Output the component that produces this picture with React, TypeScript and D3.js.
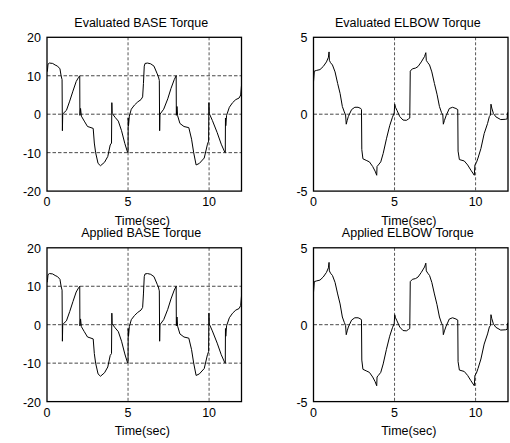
import * as d3 from "d3";

// time (s) / torque pairs
const baseTime = [
  0.0, 0.03, 0.06, 0.15, 0.35, 0.5, 0.65, 0.8, 0.87, 0.93, 0.95, 0.97, 1.0, 1.2, 1.4, 1.6, 1.8, 1.95, 2.02,
  2.03, 2.07, 2.12, 2.3, 2.5, 2.65, 2.85, 2.92, 3.0, 3.15, 3.3, 3.55, 3.75, 3.9, 3.98, 4.0, 4.02, 4.2, 4.4,
  4.6, 4.8, 4.97, 5.0, 5.01, 5.03, 5.08, 5.2, 5.4, 5.6, 5.8, 5.9, 5.95, 6.0, 6.05, 6.2, 6.4, 6.6, 6.8, 6.87,
  6.93, 6.95, 6.97, 7.2, 7.45, 7.65, 7.85, 7.97, 7.98, 8.02, 8.06, 8.2, 8.45, 8.75, 8.92, 9.05, 9.2, 9.4,
  9.7, 9.9, 9.97, 9.99, 10.01, 10.2, 10.5, 10.75, 10.97, 11.0, 11.01, 11.03, 11.08, 11.25, 11.45, 11.65,
  11.85, 11.95, 12.0,
];
const baseTorque = [
  11.0, 11.5, 13.0, 13.3, 13.2, 12.8, 12.5, 11.8, 10.0, 9.0, -4.3, 0.0, 0.2, 1.0, 3.4, 6.0, 8.5, 9.6, 10.0,
  -0.3, 1.5, -0.5, -1.8, -3.2, -3.4, -3.7, -7.5, -10.0, -12.8, -13.4, -12.5, -11.0, -8.0, -7.5, 3.0, 0.2,
  -0.8, -1.8, -4.3, -7.6, -9.9, -10.0, -1.0, -3.0, -0.5, 1.3, 2.4, 3.2, 3.8, 4.5, 8.0, 12.5, 13.2, 13.3,
  13.1, 12.5, 10.5, 9.8, 8.8, -4.3, 0.0, 1.3, 4.0, 6.7, 9.0, 10.0, -0.3, 2.0, -0.4, -2.4, -3.2, -3.5, -6.5,
  -10.0, -13.2, -12.8, -11.4, -7.8, -7.0, 3.0, 0.2, -1.6, -4.8, -7.8, -9.9, -10.0, -1.0, -3.0, -0.3, 1.8,
  3.0, 3.8, 4.2, 5.0, 7.5,
];

const elbowTime = [
  0.0, 0.05, 0.2, 0.4, 0.6, 0.8, 0.92, 0.96, 0.98, 1.05, 1.17, 1.33, 1.49, 1.64, 1.78, 1.9, 1.98, 2.02, 2.08,
  2.15, 2.35, 2.55, 2.75, 2.92, 2.96, 2.98, 3.05, 3.25, 3.45, 3.65, 3.8, 3.9, 3.92, 4.0, 4.15, 4.3, 4.5, 4.7,
  4.87, 4.98, 5.01, 5.06, 5.15, 5.32, 5.52, 5.73, 5.87, 5.94, 5.97, 6.1, 6.3, 6.45, 6.65, 6.85, 6.93, 6.96,
  7.05, 7.16, 7.3, 7.46, 7.62, 7.77, 7.9, 7.98, 8.01, 8.08, 8.18, 8.38, 8.58, 8.79, 8.9, 8.92, 9.0, 9.3,
  9.51, 9.71, 9.92, 9.96, 10.05, 10.15, 10.33, 10.53, 10.74, 10.85, 10.92, 10.95, 11.0, 11.1, 11.25, 11.55,
  11.86, 11.95, 11.97, 12.0,
];
const elbowTorque = [
  2.1, 2.8, 2.85, 2.9, 3.1, 3.4, 3.7, 4.05, 3.5, 3.35, 3.2, 2.75, 2.0, 1.35, 0.5, 0.15, -0.05, -0.65, -0.4,
  -0.15, 0.3, 0.45, 0.45, 0.37, 0.3, -2.3, -2.9, -3.0, -3.1, -3.4, -3.7, -3.97, -3.4, -3.3, -3.1, -2.55,
  -1.6, -0.75, -0.2, 0.08, 0.65, 0.45, 0.25, -0.15, -0.38, -0.4, -0.3, -0.25, 2.8, 2.95, 3.0, 3.1, 3.4,
  3.75, 4.0, 3.5, 3.35, 3.2, 2.75, 2.0, 1.3, 0.5, 0.1, -0.05, -0.65, -0.4, -0.1, 0.37, 0.45, 0.37, 0.3,
  -2.4, -2.95, -3.04, -3.3, -3.64, -3.97, -3.3, -3.15, -2.85, -2.23, -1.26, -0.6, -0.15, -0.05, 0.65, 0.4,
  0.05, -0.17, -0.35, -0.33, -0.3, 0.1, 0.1,
];

const xTicks = [0, 5, 10];
const xGrid = [5, 10];
const baseTicks = [-20, -10, 0, 10, 20];
const baseGrid = [-10, 0, 10];
const elbowTicks = [-5, 0, 5];
const elbowGrid = [0];

const FONT = "'Liberation Sans', Arial, Helvetica, sans-serif";

type PanelProps = {
  id: string;
  title: string;
  t: number[];
  v: number[];
  yDomain: [number, number];
  yTicks: number[];
  yGrid: number[];
  left: number;
  top: number;
};

const W = 194.5;
const H = 153.8;

function Panel({ id, title, t, v, yDomain, yTicks, yGrid, left, top }: PanelProps) {
  const x = d3.scaleLinear().domain([0, 12]).range([left, left + W]);
  const y = d3.scaleLinear().domain(yDomain).range([top + H, top]);
  const pts = t.map((d, i) => [d, v[i]] as [number, number]);
  const line = d3
    .line<[number, number]>()
    .x((d) => x(d[0]))
    .y((d) => y(d[1]));
  const cx = left + W / 2 - 3;

  return (
    <g>
      <clipPath id={id}>
        <rect x={left} y={top} width={W} height={H} />
      </clipPath>
      {yGrid.map((g) => (
        <line key={"h" + g} x1={left} x2={left + W} y1={y(g)} y2={y(g)}
          stroke="#333" strokeWidth={0.9} strokeDasharray="3.5,2" />
      ))}
      {xGrid.map((g) => (
        <line key={"v" + g} x1={x(g)} x2={x(g)} y1={top} y2={top + H}
          stroke="#444" strokeWidth={0.9} strokeDasharray="3,2" />
      ))}
      <path d={line(pts) ?? ""} fill="none" stroke="#000" strokeWidth={1} clipPath={`url(#${id})`} />
      <rect x={left} y={top} width={W} height={H} fill="none" stroke="#000" strokeWidth={1.3} />
      {yTicks.map((tk) => (
        <text key={"yl" + tk} x={left - 6} y={y(tk) + 1} textAnchor="end" dominantBaseline="central"
          fontSize={12.5} fontFamily={FONT}>
          {tk}
        </text>
      ))}
      {xTicks.map((tk) => (
        <text key={"xl" + tk} x={x(tk)} y={top + H + 15} textAnchor="middle"
          fontSize={12.5} fontFamily={FONT}>
          {tk}
        </text>
      ))}
      <text x={cx} y={top - 10.5} textAnchor="middle" fontSize={12.5} fontFamily={FONT}>
        {title}
      </text>
      <text x={cx + 1} y={top + H + 33.5} textAnchor="middle" fontSize={12.5} fontFamily={FONT}>
        Time(sec)
      </text>
    </g>
  );
}

export default function App() {
  const lefts = [47, 313.5];
  const tops = [37.3, 247.8];
  return (
    <svg width={510} height={443} style={{ position: "absolute", left: 0, top: 0, display: "block", background: "#fff" }}>
      <rect width={510} height={443} fill="#fff" />
      <Panel id="c1" title="Evaluated BASE Torque" t={baseTime} v={baseTorque} yDomain={[-20, 20]}
        yTicks={baseTicks} yGrid={baseGrid} left={lefts[0]} top={tops[0]} />
      <Panel id="c2" title="Evaluated ELBOW Torque" t={elbowTime} v={elbowTorque} yDomain={[-5, 5]}
        yTicks={elbowTicks} yGrid={elbowGrid} left={lefts[1]} top={tops[0]} />
      <Panel id="c3" title="Applied BASE Torque" t={baseTime} v={baseTorque} yDomain={[-20, 20]}
        yTicks={baseTicks} yGrid={baseGrid} left={lefts[0]} top={tops[1]} />
      <Panel id="c4" title="Applied ELBOW Torque" t={elbowTime} v={elbowTorque} yDomain={[-5, 5]}
        yTicks={elbowTicks} yGrid={elbowGrid} left={lefts[1]} top={tops[1]} />
    </svg>
  );
}
